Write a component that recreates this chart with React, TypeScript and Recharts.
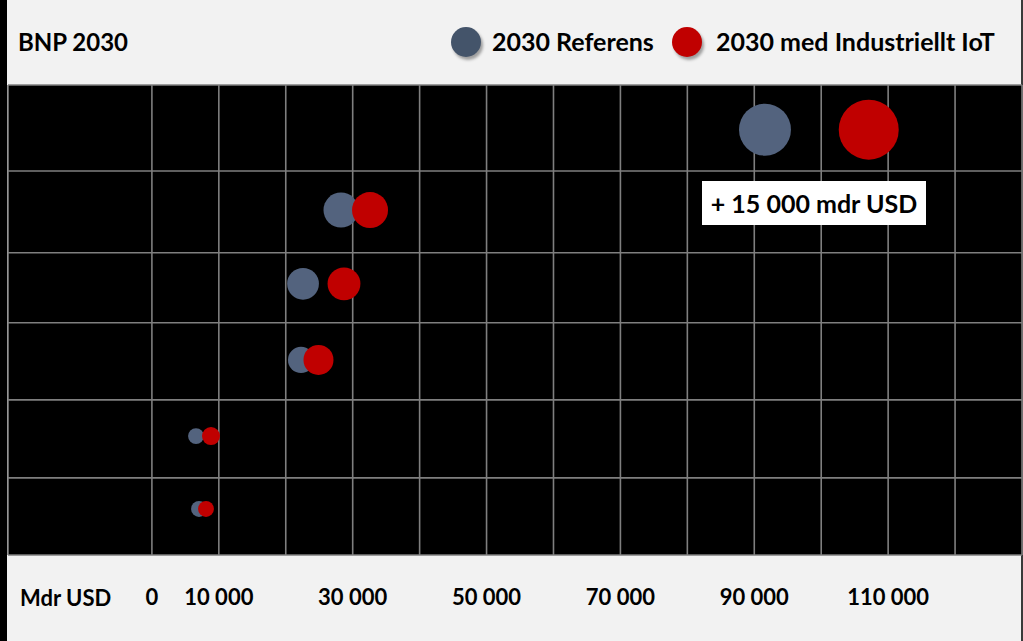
import React from 'react';
import { ScatterChart, Scatter, XAxis, YAxis, ZAxis, CartesianGrid } from 'recharts';

// Row positions (arbitrary vertical scale 0..100)
const rowLevels = [90.5, 73.4, 57.7, 41.5, 25.3, 9.8];
// BNP 2030 in mdr USD
const referensValues = [91600, 28250, 22580, 22280, 6590, 7040];
const iotValues = [107100, 32590, 28700, 24890, 8830, 8080];
// bubble magnitudes
const referensSizes = [75, 34, 28, 19, 7, 7];
const iotSizes = [100, 36, 30, 25, 9, 7];

const xTicks = [0, 10000, 30000, 50000, 70000, 90000, 110000];
const xGridValues = [-21500, 0, 10000, 20000, 30000, 40000, 50000, 60000, 70000, 80000, 90000, 100000, 110000, 120000, 130000];
const yGridValues = [0, 16.4, 33.0, 49.4, 64.3, 81.7, 100];

const seriesNames = ['2030 Referens', '2030 med Industriellt IoT'];
const titleText = 'BNP 2030';
const unitText = 'Mdr USD';
const annotationText = '+ 15 000 mdr USD';

const BLUE = '#53637e';
const BLUE_LEGEND = '#44546a';
const RED = '#c00000';
const FONT = 'Lato, "Open Sans", sans-serif';

const referensData = rowLevels.map((y, i) => ({ x: referensValues[i], y, z: referensSizes[i] }));
const iotData = rowLevels.map((y, i) => ({ x: iotValues[i], y, z: iotSizes[i] }));

const fmt = (v: number) => {
  const s = String(Math.round(v));
  return s.replace(/\B(?=(\d{3})+(?!\d))/g, ' ');
};

const makeShape = (color: string) => (props: any) => {
  const r = props.width ? props.width / 2 : Math.sqrt((props.size || 0) / Math.PI);
  return <circle cx={props.cx} cy={props.cy} r={r} fill={color} />;
};

export default function App() {
  return (
    <div
      style={{
        position: 'absolute',
        left: 0,
        top: 0,
        width: 1023,
        height: 641,
        background: '#f2f2f2',
        fontFamily: FONT,
        overflow: 'hidden',
      }}
    >
      <div style={{ position: 'absolute', left: 0, top: 0, width: 7, height: 641, background: '#000' }} />
      <div style={{ position: 'absolute', left: 1021, top: 0, width: 2, height: 641, background: '#3a3a3a' }} />

      <ScatterChart
        width={1023}
        height={641}
        margin={{ top: 85, right: 1, bottom: 0, left: 8 }}
        style={{ position: 'absolute', left: 0, top: 0 }}
      >
        <CartesianGrid
          fill="#000"
          stroke="#7f7f7f"
          strokeWidth={1.6}
          verticalValues={xGridValues}
          horizontalValues={yGridValues}
        />
        <XAxis
          type="number"
          dataKey="x"
          domain={[-21500, 130000]}
          ticks={xTicks}
          interval={0}
          allowDataOverflow
          axisLine={false}
          tickLine={false}
          tickSize={0}
          tickMargin={34}
          height={86}
          tickFormatter={fmt}
          tick={{ fill: '#000', fontSize: 22, fontWeight: 700, fontFamily: FONT }}
        />
        <YAxis type="number" dataKey="y" domain={[0, 100]} hide />
        <ZAxis type="number" dataKey="z" domain={[0, 100]} range={[0, 2827]} />
        <Scatter
          name={seriesNames[0]}
          data={referensData}
          fill={BLUE}
          shape={makeShape(BLUE)}
          isAnimationActive={false}
        />
        <Scatter
          name={seriesNames[1]}
          data={iotData}
          fill={RED}
          shape={makeShape(RED)}
          isAnimationActive={false}
        />
      </ScatterChart>

      <div
        style={{
          position: 'absolute',
          left: 18,
          top: 26,
          fontSize: 24,
          fontWeight: 700,
          color: '#000',
          lineHeight: '32px',
        }}
      >
        {titleText}
      </div>

      <div
        style={{
          position: 'absolute',
          left: 451,
          top: 27,
          width: 30,
          height: 30,
          borderRadius: '50%',
          background: BLUE_LEGEND,
          boxShadow: '2px 3px 3px rgba(0,0,0,0.35)',
        }}
      />
      <div
        style={{
          position: 'absolute',
          left: 492,
          top: 24,
          fontSize: 25,
          fontWeight: 700,
          color: '#000',
          lineHeight: '34px',
          whiteSpace: 'nowrap',
        }}
      >
        {seriesNames[0]}
      </div>
      <div
        style={{
          position: 'absolute',
          left: 672,
          top: 27,
          width: 30,
          height: 30,
          borderRadius: '50%',
          background: RED,
          boxShadow: '2px 3px 3px rgba(0,0,0,0.35)',
        }}
      />
      <div
        style={{
          position: 'absolute',
          left: 716,
          top: 24,
          fontSize: 25,
          fontWeight: 700,
          color: '#000',
          lineHeight: '34px',
          whiteSpace: 'nowrap',
        }}
      >
        {seriesNames[1]}
      </div>

      <div
        style={{
          position: 'absolute',
          left: 20,
          top: 583,
          fontSize: 22,
          fontWeight: 700,
          color: '#000',
          lineHeight: '30px',
          whiteSpace: 'nowrap',
        }}
      >
        {unitText}
      </div>

      <div
        style={{
          position: 'absolute',
          left: 702,
          top: 181,
          width: 224,
          height: 44,
          background: '#fff',
          display: 'flex',
          alignItems: 'center',
          justifyContent: 'center',
          fontSize: 25,
          fontWeight: 700,
          color: '#000',
          whiteSpace: 'nowrap',
        }}
      >
        {annotationText}
      </div>
    </div>
  );
}
